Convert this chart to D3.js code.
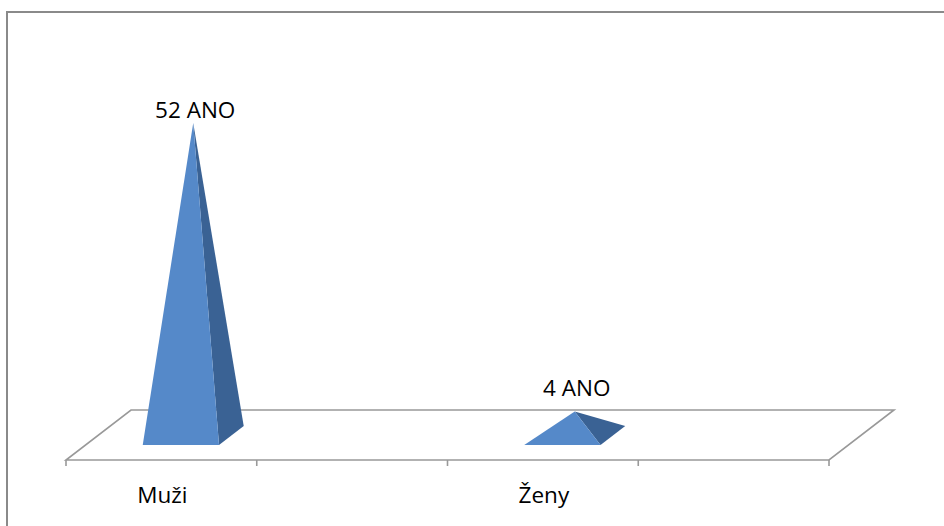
<!DOCTYPE html>
<html>
<head>
<meta charset="utf-8">
<script src="https://cdn.jsdelivr.net/npm/d3@7/dist/d3.min.js"></script>
<style>
  html, body { margin: 0; padding: 0; background: #fff; }
  svg { display: block; }
  text { font-family: "Open Sans", "Noto Sans", sans-serif; fill: #000; }
</style>
</head>
<body>
<svg id="chart" width="944" height="526"></svg>
<script>
// Category slots along the floor (two of them are left empty)
const categories = ["Muži", "", "Ženy", ""];
// Series "ANO"
const seriesName = "ANO";
const values = [52, null, 4, null];

const svg = d3.select("#chart");

// Chart frame (runs off the right and bottom edges)
svg.append("rect")
  .attr("x", 7).attr("y", 12)
  .attr("width", 960).attr("height", 540)
  .attr("fill", "none")
  .attr("stroke", "#8a8a8a")
  .attr("stroke-width", 2);

// Floor geometry: front edge and depth vector of the oblique projection
const floorY = 460;
const depth = { dx: 65, dy: -50 };

const x = d3.scaleBand()
  .domain(d3.range(categories.length))
  .range([66, 829])
  .paddingInner(0)
  .paddingOuter(0);

// Project a point given front-edge x and depth fraction t (0 = front, 1 = back)
const proj = (px, t, h = 0) => [px + depth.dx * t, floorY + depth.dy * t - h];

// Pyramid base occupies this depth span and this share of each slot
const baseFront = 0.3, baseBack = 0.68, baseShare = 0.4;
const baseMid = (baseFront + baseBack) / 2;
const zeroY = floorY + depth.dy * baseMid;

const y = d3.scaleLinear().domain([0, 60]).range([zeroY, zeroY - 360.6]);

// Floor parallelogram
const fl = [proj(66, 0), proj(829, 0), proj(829, 1), proj(66, 1)];
svg.append("path")
  .attr("d", d3.line()(fl) + "Z")
  .attr("fill", "#fff")
  .attr("stroke", "#999")
  .attr("stroke-width", 1.6)
  .attr("stroke-linejoin", "miter");

// Category tick marks under the front edge
const tickXs = categories.map((c, i) => x(i)).concat([x(categories.length - 1) + x.bandwidth()]);
svg.append("g").selectAll("line")
  .data(tickXs)
  .join("line")
  .attr("x1", d => d).attr("x2", d => d)
  .attr("y1", floorY).attr("y2", floorY + 6)
  .attr("stroke", "#999")
  .attr("stroke-width", 1.6);

// Category labels
svg.append("g").selectAll("text")
  .data(categories)
  .join("text")
  .attr("x", (d, i) => x(i) + x.bandwidth() / 2 + 1)
  .attr("y", 503)
  .attr("text-anchor", "middle")
  .attr("font-size", 22.5)
  .text(d => d);

// Pyramids
const data = values.map((v, i) => ({ i, v })).filter(d => d.v != null);
const pyr = svg.append("g");
data.forEach(d => {
  const cx = x(d.i) + x.bandwidth() / 2;
  const half = x.bandwidth() * baseShare / 2;
  const fL = proj(cx - half, baseFront);
  const fR = proj(cx + half, baseFront);
  const bR = proj(cx + half, baseBack);
  const apex = [cx + depth.dx * baseMid, y(d.v)];
  // right side face
  pyr.append("path")
    .attr("d", d3.line()([fR, bR, apex]) + "Z")
    .attr("fill", "#3a6294");
  // front face
  pyr.append("path")
    .attr("d", d3.line()([fL, fR, apex]) + "Z")
    .attr("fill", "#5589c9");
  // value label above the tip, kept inside the plot area
  svg.append("text")
    .attr("x", apex[0] + 2)
    .attr("y", Math.max(apex[1] - 15, 118))
    .attr("text-anchor", "middle")
    .attr("font-size", 22.5)
    .text(`${d.v} ${seriesName}`);
});
</script>
</body>
</html>
